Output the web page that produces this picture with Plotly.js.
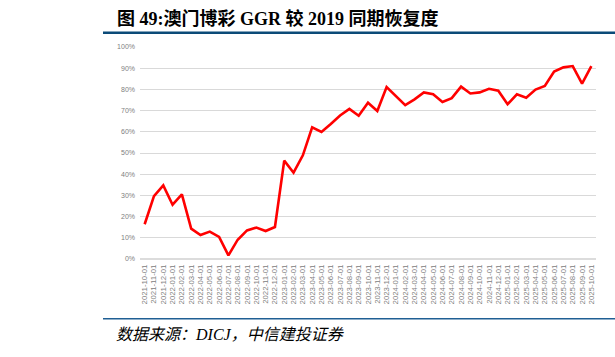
<!DOCTYPE html>
<html>
<head>
<meta charset="utf-8">
<script src="https://cdn.plot.ly/plotly-3.0.1.min.js"></script>
<style>
html,body{margin:0;padding:0;background:#fff;}
#chart{width:615px;height:357px;}
</style>
</head>
<body>
<div id="chart"></div>
<script>
// ---- data ----
const months = [
  "2021-10-01","2021-11-01","2021-12-01",
  "2022-01-01","2022-02-01","2022-03-01","2022-04-01","2022-05-01","2022-06-01",
  "2022-07-01","2022-08-01","2022-09-01","2022-10-01","2022-11-01","2022-12-01",
  "2023-01-01","2023-02-01","2023-03-01","2023-04-01","2023-05-01","2023-06-01",
  "2023-07-01","2023-08-01","2023-09-01","2023-10-01","2023-11-01","2023-12-01",
  "2024-01-01","2024-02-01","2024-03-01","2024-04-01","2024-05-01","2024-06-01",
  "2024-07-01","2024-08-01","2024-09-01","2024-10-01","2024-11-01","2024-12-01",
  "2025-01-01","2025-02-01","2025-03-01","2025-04-01","2025-05-01","2025-06-01",
  "2025-07-01","2025-08-01","2025-09-01","2025-10-01"
];
const recovery = [
  0.164,0.297,0.347,
  0.256,0.305,0.143,0.113,0.129,0.104,
  0.017,0.091,0.135,0.148,0.132,0.151,
  0.464,0.407,0.489,0.621,0.599,0.637,
  0.677,0.708,0.676,0.737,0.698,0.811,
  0.770,0.726,0.753,0.786,0.777,0.741,
  0.759,0.813,0.781,0.786,0.803,0.794,
  0.730,0.777,0.761,0.799,0.816,0.884,
  0.904,0.910,0.827,0.910
];
const yTickVals = [0,0.1,0.2,0.3,0.4,0.5,0.6,0.7,0.8,0.9,1.0];
const yTickText = ["0%","10%","20%","30%","40%","50%","60%","70%","80%","90%","100%"];
const titleText = "图 49:澳门博彩 GGR 较 2019 同期恢复度";
const sourceText = "数据来源：DICJ，中信建投证券";

// ---- layout geometry (pixels) ----
const W = 615, H = 357;
const L = 140, R = 596, T = 46.7, B = 258.7;
const px = x => (x - L) / (R - L);
const py = y => (B - y) / (B - T);

const trace = {
  x: months,
  y: recovery,
  type: "scatter",
  mode: "lines",
  line: {color: "#ff0000", width: 2.6},
  hoverinfo: "x+y"
};

const layout = {
  width: W, height: H,
  margin: {l: L, r: W - R, t: T, b: H - B, pad: 0},
  paper_bgcolor: "#ffffff",
  plot_bgcolor: "#ffffff",
  showlegend: false,
  font: {family: "Liberation Sans, Arial, sans-serif", color: "#808080", size: 7},
  xaxis: {
    type: "category",
    range: [-0.5, months.length - 0.5],
    tickangle: -90,
    tickfont: {size: 7.8, color: "#808080", family: "Liberation Sans, Arial, sans-serif"},
    showgrid: false,
    zeroline: false,
    showline: false,
    ticks: "",
    ticklabelstandoff: 3,
    fixedrange: true
  },
  yaxis: {
    range: [0, 1.0],
    tickvals: yTickVals,
    ticktext: yTickText,
    tickfont: {size: 7, color: "#808080", family: "Liberation Sans, Arial, sans-serif"},
    showgrid: true,
    gridcolor: "#d9d9d9",
    gridwidth: 1,
    zeroline: false,
    showline: false,
    ticks: "",
    ticklabelstandoff: 4,
    fixedrange: true
  },
  shapes: [
    {type: "line", xref: "paper", yref: "paper",
     x0: px(103), x1: px(615), y0: py(32.5), y1: py(32.5),
     line: {color: "#0b4a78", width: 2.6}},
    {type: "line", xref: "paper", yref: "paper",
     x0: px(103), x1: px(615), y0: py(318.5), y1: py(318.5),
     line: {color: "#1f5f94", width: 1.5}},
    {type: "line", xref: "paper", yref: "paper",
     x0: 0, x1: 1, y0: 0, y1: 0,
     line: {color: "#d0d0d0", width: 1.5}}
  ],
  annotations: [
    {text: "<b>" + titleText + "</b>", xref: "paper", yref: "paper",
     x: px(115), y: py(18.5), xanchor: "left", yanchor: "middle", showarrow: false,
     font: {family: "Liberation Serif, Noto Sans CJK SC, serif", size: 18, color: "#000000"}},
    {text: "<i>" + sourceText + "</i>", xref: "paper", yref: "paper",
     x: px(114), y: py(334), xanchor: "left", yanchor: "middle", showarrow: false,
     font: {family: "Liberation Serif, Noto Sans CJK SC, serif", size: 16, color: "#000000"}}
  ]
};

Plotly.newPlot("chart", [trace], layout, {staticPlot: true, displayModeBar: false});
</script>
</body>
</html>
